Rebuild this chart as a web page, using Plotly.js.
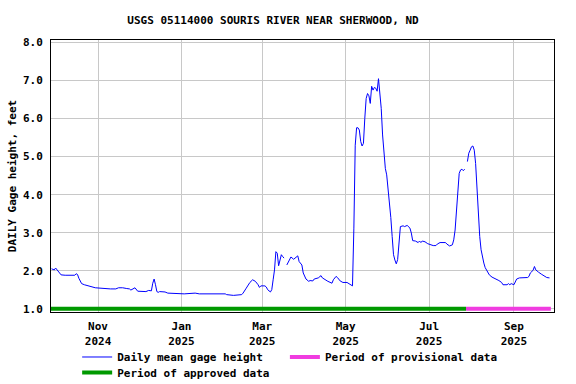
<!DOCTYPE html>
<html>
<head>
<meta charset="utf-8">
<script src="https://cdn.plot.ly/plotly-3.0.1.min.js"></script>
<style>html,body{margin:0;padding:0;background:#fff;}#chart{width:576px;height:384px;}</style>
</head>
<body>
<div id="chart"></div>
<script>
// Daily mean gage height (feet)
const dates = [
"2024-09-28","2024-09-29","2024-09-30","2024-10-01","2024-10-02","2024-10-03","2024-10-04","2024-10-05","2024-10-08","2024-10-15",
"2024-10-16","2024-10-17","2024-10-18","2024-10-19","2024-10-20","2024-10-22","2024-10-26","2024-10-30","2024-11-10","2024-11-14",
"2024-11-16","2024-11-19","2024-11-22","2024-11-24","2024-11-25","2024-11-27","2024-11-28","2024-11-30","2024-12-04","2024-12-06",
"2024-12-08","2024-12-10","2024-12-11","2024-12-12","2024-12-13","2024-12-14","2024-12-15","2024-12-16","2024-12-20","2024-12-22",
"2025-01-03","2025-01-11","2025-01-14","2025-02-02","2025-02-03","2025-02-08","2025-02-14","2025-02-15","2025-02-17","2025-02-20",
"2025-02-22","2025-02-24","2025-02-26","2025-02-27","2025-02-28","2025-03-03","2025-03-04","2025-03-05","2025-03-07","2025-03-08",
"2025-03-09","2025-03-10","2025-03-11","2025-03-12","2025-03-13","2025-03-14","2025-03-15","2025-03-16","2025-03-17","2025-03-18",
"2025-03-19","2025-03-21","2025-03-22","2025-03-24","2025-03-26","2025-03-27","2025-03-28","2025-03-30","2025-03-31","2025-04-01",
"2025-04-02","2025-04-04","2025-04-05","2025-04-07","2025-04-08","2025-04-11","2025-04-13","2025-04-14","2025-04-16","2025-04-18",
"2025-04-21","2025-04-22","2025-04-24","2025-04-25","2025-04-27","2025-04-29","2025-05-02","2025-05-03","2025-05-04","2025-05-06",
"2025-05-07","2025-05-08","2025-05-09","2025-05-10","2025-05-11","2025-05-12","2025-05-13","2025-05-14","2025-05-15","2025-05-16",
"2025-05-17","2025-05-18","2025-05-19","2025-05-20","2025-05-21","2025-05-22","2025-05-23","2025-05-24","2025-05-25","2025-05-26",
"2025-05-27","2025-05-28","2025-05-29","2025-05-30","2025-05-31","2025-06-01","2025-06-02","2025-06-03","2025-06-04","2025-06-05",
"2025-06-06","2025-06-07","2025-06-08","2025-06-09","2025-06-10","2025-06-12","2025-06-13","2025-06-15","2025-06-17","2025-06-18",
"2025-06-19","2025-06-21","2025-06-23","2025-06-24","2025-06-25","2025-06-26","2025-06-28","2025-06-30","2025-07-02","2025-07-04",
"2025-07-06","2025-07-07","2025-07-09","2025-07-13","2025-07-14","2025-07-16","2025-07-18","2025-07-19","2025-07-20","2025-07-21",
"2025-07-22","2025-07-23","2025-07-24","2025-07-25","2025-07-26","2025-07-27","2025-07-28","2025-07-29","2025-07-30","2025-07-31",
"2025-08-01","2025-08-02","2025-08-03","2025-08-04","2025-08-05","2025-08-06","2025-08-07","2025-08-08","2025-08-09","2025-08-10",
"2025-08-11","2025-08-12","2025-08-13","2025-08-14","2025-08-16","2025-08-19","2025-08-21","2025-08-23","2025-08-24","2025-08-27",
"2025-08-28","2025-08-29","2025-08-30","2025-09-01","2025-09-02","2025-09-03","2025-09-05","2025-09-09","2025-09-11","2025-09-12",
"2025-09-13","2025-09-15","2025-09-16","2025-09-17","2025-09-18","2025-09-19","2025-09-21","2025-09-23","2025-09-25","2025-09-27"
];
const gageHeight = [
2.05,2.04,2.02,2.07,2.02,1.97,1.94,1.89,1.88,1.88,
1.92,1.90,1.80,1.72,1.66,1.63,1.60,1.55,1.52,1.52,
1.55,1.55,1.53,1.52,1.49,1.53,1.55,1.46,1.46,1.45,
1.48,1.47,1.67,1.78,1.63,1.45,1.43,1.45,1.44,1.41,
1.39,1.41,1.39,1.39,1.37,1.35,1.37,1.41,1.52,1.69,
1.76,1.72,1.63,1.56,1.60,1.60,1.57,1.50,1.44,1.50,
1.76,2.02,2.50,2.46,2.13,2.25,2.42,2.37,2.33,null,
2.15,2.29,2.36,2.30,2.36,2.39,2.24,2.15,1.94,1.85,
1.78,1.72,1.74,1.73,1.78,1.81,1.87,1.81,1.76,1.72,
1.67,1.76,1.85,1.82,1.73,1.69,1.69,1.67,1.63,1.60,
3.12,5.30,5.76,5.76,5.70,5.40,5.28,5.35,6.01,6.53,
6.66,6.60,6.40,6.85,6.75,6.82,6.80,6.72,7.05,6.70,
6.27,5.57,5.04,4.69,4.52,4.17,3.86,3.40,2.90,2.42,
2.28,2.18,2.29,2.72,3.16,3.18,3.16,3.19,3.12,2.99,
2.79,2.78,2.74,2.78,2.74,2.78,2.76,2.71,2.68,2.66,
2.66,2.70,2.74,2.74,2.70,2.65,2.68,2.81,3.07,3.60,
4.30,4.56,4.65,4.67,4.63,4.67,null,4.87,5.09,5.17,
5.26,5.28,5.17,4.82,4.08,3.42,2.90,2.55,2.33,2.20,
2.08,2.02,1.98,1.89,1.83,1.78,1.74,1.69,1.63,1.63,
1.66,1.63,1.66,1.63,1.72,1.78,1.81,1.81,1.82,1.85,
1.94,2.01,2.11,2.02,1.98,1.96,1.91,1.87,1.82,1.81
];
// Data-status periods
const approvedPeriod = ["2024-09-27", "2025-07-28"];
const provisionalPeriod = ["2025-07-28", "2025-09-28"];
const periodLevel = 1.0;
// Axis ticks
const xTickVals = ["2024-11-01","2025-01-01","2025-03-01","2025-05-01","2025-07-01","2025-09-01"];
const xTickText = ["Nov<br>2024","Jan<br>2025","Mar<br>2025","May<br>2025","Jul<br>2025","Sep<br>2025"];
const yTickVals = [1,2,3,4,5,6,7,8];

const FONT = "DejaVu Sans Mono, monospace";
const baseFont = {family: FONT, size: 11, color: "#000", weight: "bold"};

const traces = [
  {x: dates, y: gageHeight, type: "scatter", mode: "lines", name: "Daily mean gage height",
   line: {color: "#0000ff", width: 1}, connectgaps: false, legend: "legend"},
  {x: provisionalPeriod, y: [periodLevel, periodLevel], type: "scatter", mode: "lines",
   name: "Period of provisional data", line: {color: "#f03ce0", width: 4}, legend: "legend3"},
  {x: approvedPeriod, y: [periodLevel, periodLevel], type: "scatter", mode: "lines",
   name: "Period of approved data", line: {color: "#009900", width: 4}, legend: "legend2"}
];

const legendCommon = {orientation: "h", xanchor: "left", yanchor: "top", yref: "container",
  font: baseFont, bgcolor: "rgba(0,0,0,0)", itemwidth: 30};

const layout = {
  width: 576, height: 384,
  margin: {l: 51, r: 22, t: 40, b: 72, pad: 0, autoexpand: false},
  paper_bgcolor: "#fff", plot_bgcolor: "#fff",
  font: baseFont,
  title: {text: "USGS 05114000 SOURIS RIVER NEAR SHERWOOD, ND", font: baseFont,
          xref: "container", x: 0.474, xanchor: "center", yref: "container", y: 0.948, yanchor: "middle"},
  xaxis: {type: "date", range: ["2024-09-27 15:00", "2025-09-30 07:00"],
          tickmode: "array", tickvals: xTickVals, ticktext: xTickText,
          showgrid: true, gridcolor: "#c8c8c8", gridwidth: 1,
          showline: true, linecolor: "#000", linewidth: 1, mirror: true,
          ticks: "outside", ticklen: 4, tickcolor: "rgba(0,0,0,0)",
          tickfont: baseFont, zeroline: false, fixedrange: true},
  yaxis: {range: [0.913, 8.068], tickmode: "array", tickvals: yTickVals, tickformat: ".1f",
          showgrid: true, gridcolor: "#c8c8c8", gridwidth: 1,
          showline: true, linecolor: "#000", linewidth: 1, mirror: true,
          ticks: "outside", ticklen: 5, tickcolor: "rgba(0,0,0,0)",
          tickfont: baseFont, zeroline: false,
          title: {text: "DAILY Gage height, feet", font: baseFont, standoff: 4}},
  showlegend: true,
  legend: Object.assign({}, legendCommon, {x: 0.052, y: 0.1081}),
  legend3: Object.assign({}, legendCommon, {x: 0.465, y: 0.1081}),
  legend2: Object.assign({}, legendCommon, {x: 0.052, y: 0.0677})
};

Plotly.newPlot("chart", traces, layout, {staticPlot: true, displayModeBar: false});
</script>
</body>
</html>
